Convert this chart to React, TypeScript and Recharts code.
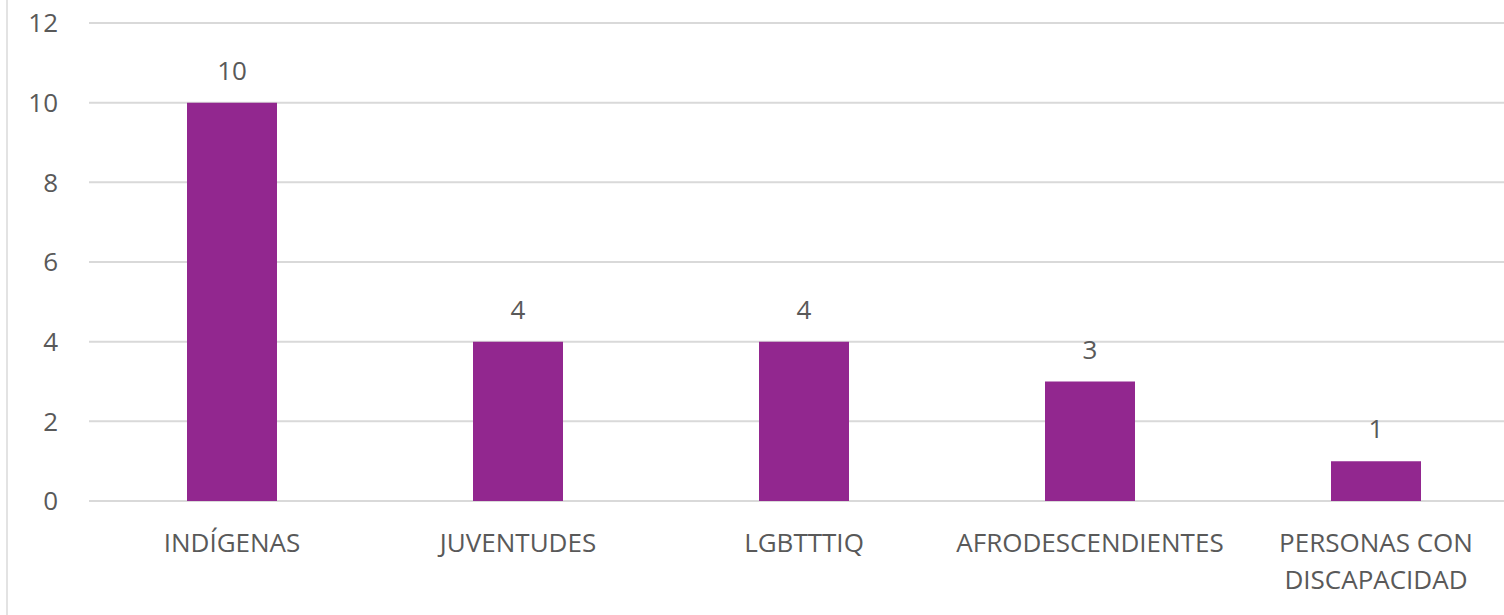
import { BarChart, Bar, XAxis, YAxis, CartesianGrid, LabelList } from 'recharts';

const categories = ['INDÍGENAS', 'JUVENTUDES', 'LGBTTTIQ', 'AFRODESCENDIENTES', 'PERSONAS CON DISCAPACIDAD'];
const values = [10, 4, 4, 3, 1];
const yTicks = [0, 2, 4, 6, 8, 10, 12];

const data = categories.map((name, i) => ({ name, value: values[i] }));

const FONT = '"Open Sans", sans-serif';
const TEXT_COLOR = '#595959';
const FONT_SIZE = 26;
const MAX_CHARS = 17;

// greedy word wrap by character count
const wrap = (label: string) => {
  const lines: string[] = [];
  let cur = '';
  label.split(' ').forEach((w) => {
    const next = cur ? cur + ' ' + w : w;
    if (next.length > MAX_CHARS && cur) {
      lines.push(cur);
      cur = w;
    } else {
      cur = next;
    }
  });
  if (cur) lines.push(cur);
  return lines;
};

const CategoryTick = ({ x, y, payload }: any) => (
  <text
    x={x}
    y={y}
    textAnchor='middle'
    fill={TEXT_COLOR}
    fontSize={FONT_SIZE}
    fontFamily={FONT}
  >
    {wrap(payload.value).map((line, i) => (
      <tspan key={i} x={x} dy={i === 0 ? '0.9em' : 37}>
        {line}
      </tspan>
    ))}
  </text>
);

export default function App() {
  return (
    <div
      style={{
        position: 'absolute',
        left: 0,
        top: 0,
        width: 1504,
        height: 615,
        overflow: 'hidden',
        background: '#fff',
      }}
    >
      <div style={{ position: 'absolute', left: 6, top: 0, width: 2, height: 615, background: '#e3e3e3' }} />
      <BarChart
        width={1530}
        height={615}
        data={data}
        margin={{ top: 23, right: 11, bottom: 0, left: 0 }}
      >
        <CartesianGrid vertical={false} stroke='#d9d9d9' strokeWidth={2} />
        <XAxis
          dataKey='name'
          axisLine={false}
          tickLine={false}
          height={114}
          tickMargin={22}
          tick={<CategoryTick />}
          interval={0}
        />
        <YAxis
          domain={[0, 12]}
          ticks={yTicks}
          axisLine={false}
          tickLine={false}
          tickSize={0}
          tickMargin={31}
          width={89}
          tick={{ fill: TEXT_COLOR, fontSize: FONT_SIZE, fontFamily: FONT }}
        />
        <Bar dataKey='value' fill='#92278f' barSize={90} isAnimationActive={false}>
          <LabelList
            dataKey='value'
            position='top'
            offset={23}
            fill={TEXT_COLOR}
            fontSize={FONT_SIZE}
            fontFamily={FONT}
          />
        </Bar>
      </BarChart>
    </div>
  );
}
